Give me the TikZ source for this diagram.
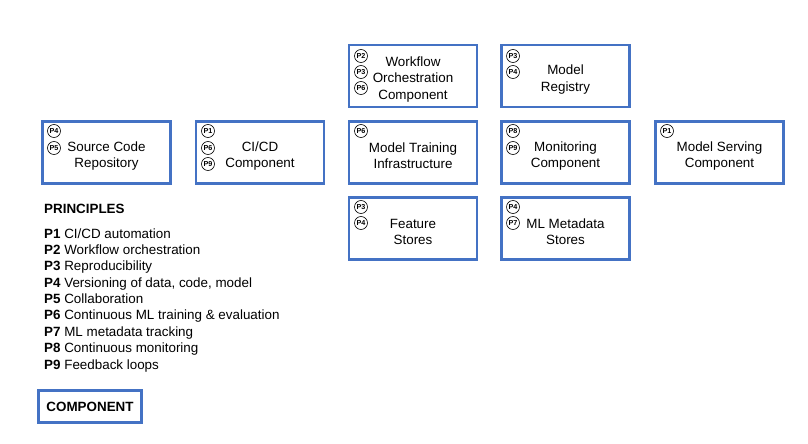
\documentclass[tikz,border=0pt]{standalone}
\usepackage{fontspec}
\setmainfont{Liberation Sans}
\definecolor{compblue}{RGB}{68,114,196}
\newcommand\tstrut{\rule{0pt}{16.5pt}}
\tikzset{
  x=1pt,y=-1pt,
  compbox/.style={draw=compblue,line width=2.2pt,fill=white,minimum width=128pt,minimum height=62pt,inner sep=0pt,align=center,font=\fontsize{13.4}{16.4}\selectfont},
  badge/.style={circle,draw=black,line width=0.6pt,inner sep=0pt,minimum size=13pt,font=\fontsize{7.2}{7.2}\selectfont\bfseries},
  legend/.style={anchor=base west,inner sep=0pt,font=\fontsize{13.4}{16.4}\selectfont},
}
\begin{document}
\begin{tikzpicture}
\useasboundingbox (0,0) rectangle (808,444);
% row 1
\node[compbox] (wf) at (413,76) {\tstrut Workflow\\Orchestration\\Component};
\node[compbox] (reg) at (565.5,76) {\tstrut Model\\Registry};
% row 2
\node[compbox] (scr) at (106.5,152.5) {\tstrut Source Code\\Repository};
\node[compbox] (cicd) at (260,152.5) {\tstrut CI/CD\\Component};
\node[compbox] (mti) at (413,152.5) {\tstrut Model Training\\Infrastructure};
\node[compbox] (mon) at (565.5,152.5) {\tstrut Monitoring\\Component};
\node[compbox] (msc) at (719.5,152.5) {\tstrut Model Serving\\Component};
% row 3
\node[compbox] (fs) at (413,228.5) {\tstrut Feature\\Stores};
\node[compbox] (mds) at (565.5,228.5) {\tstrut ML Metadata\\Stores};
% badges
\node[badge] (wf2) at (361,56) {P2};
\node[badge] (wf3) at (361,72) {P3};
\node[badge] (wf6) at (361,88) {P6};
\node[badge] (reg3) at (513,56) {P3};
\node[badge] (reg4) at (513,72) {P4};
\node[badge] (scr4) at (54,131) {P4};
\node[badge] (scr5) at (54,148) {P5};
\node[badge] (cicd1) at (208,131) {P1};
\node[badge] (cicd6) at (208,148) {P6};
\node[badge] (cicd9) at (208,164) {P9};
\node[badge] (mti6) at (361,131) {P6};
\node[badge] (mon8) at (513,131) {P8};
\node[badge] (mon9) at (513,148) {P9};
\node[badge] (msc1) at (667,131) {P1};
\node[badge] (fs3) at (361,207) {P3};
\node[badge] (fs4) at (361,223) {P4};
\node[badge] (mds4) at (513,207) {P4};
\node[badge] (mds7) at (513,223) {P7};
% legend
\node[legend,font=\fontsize{13.4}{16.4}\selectfont\bfseries] (ptitle) at (44,213) {PRINCIPLES};
\node[legend] (l1) at (44,238) {\textbf{P1} CI/CD automation};
\node[legend] (l2) at (44,254.4) {\textbf{P2} Workflow orchestration};
\node[legend] (l3) at (44,270.75) {\textbf{P3} Reproducibility};
\node[legend] (l4) at (44,287.1) {\textbf{P4} Versioning of data, code, model};
\node[legend] (l5) at (44,303.5) {\textbf{P5} Collaboration};
\node[legend] (l6) at (44,319.9) {\textbf{P6} Continuous ML training \& evaluation};
\node[legend] (l7) at (44,336.25) {\textbf{P7} ML metadata tracking};
\node[legend] (l8) at (44,352.6) {\textbf{P8} Continuous monitoring};
\node[legend] (l9) at (44,369) {\textbf{P9} Feedback loops};
\node[compbox,minimum width=103pt,minimum height=32pt,font=\fontsize{13.4}{16.4}\selectfont\bfseries] (comp) at (90,406.5) {COMPONENT};
\end{tikzpicture}
\end{document}
